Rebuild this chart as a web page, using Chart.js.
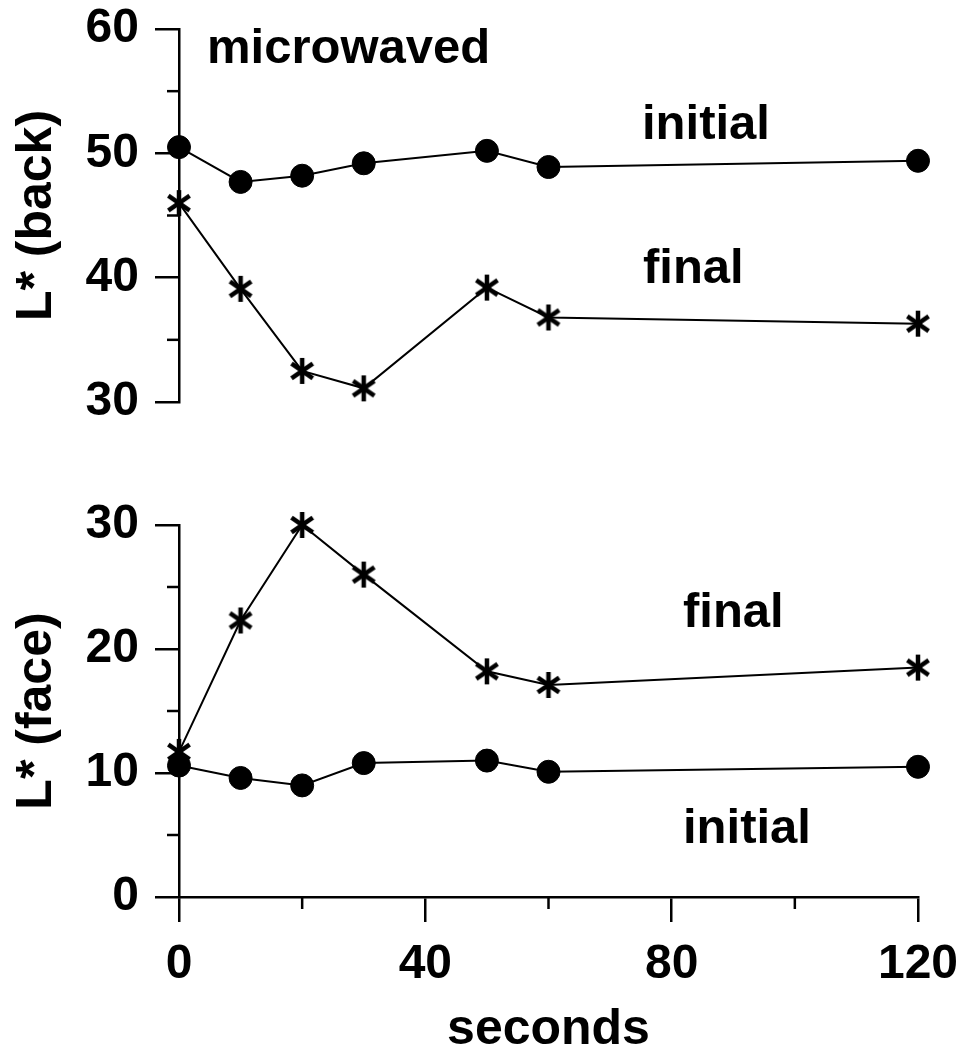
<!DOCTYPE html>
<html>
<head>
<meta charset="utf-8">
<title>L* microwaved</title>
<script src="https://cdn.jsdelivr.net/npm/chart.js@4.4.1/dist/chart.umd.min.js"></script>
<style>
  html, body { margin: 0; padding: 0; background: #fff; }
  #wrap { position: relative; width: 966px; height: 1055px; }
  .panel { position: absolute; left: 0; width: 966px; }
  #topPanel { top: 0; height: 470px; }
  #bottomPanel { top: 470px; height: 585px; }
</style>
</head>
<body>
<div id="wrap">
  <div class="panel" id="topPanel"><canvas id="chartBack"></canvas></div>
  <div class="panel" id="bottomPanel"><canvas id="chartFace"></canvas></div>
</div>
<script>
// data
var seconds = [0, 10, 20, 30, 50, 60, 120];
var backInitial = [50.5, 47.7, 48.2, 49.2, 50.2, 48.9, 49.4];
var backFinal = [46.0, 39.1, 32.5, 31.1, 39.2, 36.8, 36.3];
var faceInitial = [10.6, 9.6, 9.0, 10.8, 11.0, 10.1, 10.5];
var faceFinal = [11.7, 22.3, 30.0, 26.0, 18.2, 17.1, 18.5];

// ticks
var secondsTicks = [0, 40, 80, 120];
var secondsMinor = [20, 60, 100];
var backMinor = [35, 45, 55];
var faceMinor = [5, 15, 25];

var FONT = '"Liberation Sans", Arial, Helvetica, sans-serif';
Chart.defaults.font.family = FONT;
Chart.defaults.color = '#000';

// asterisk marker
function makeStar() {
    var c = document.createElement('canvas');
    c.width = 30;
    c.height = 30;
    var g = c.getContext('2d');
    g.strokeStyle = '#000';
    g.lineWidth = 4.5;
    var r = 13;
    [90, 35, -35].forEach(function (deg) {
        var a = deg * Math.PI / 180;
        g.beginPath();
        g.moveTo(15 - r * Math.cos(a), 15 - r * Math.sin(a));
        g.lineTo(15 + r * Math.cos(a), 15 + r * Math.sin(a));
        g.stroke();
    });
    return c;
}
var star = makeStar();

function toPoints(xs, ys) {
    return xs.map(function (x, i) { return { x: x, y: ys[i] }; });
}

function circleSet(values) {
    return {
        data: toPoints(seconds, values),
        showLine: true,
        borderColor: '#000',
        borderWidth: 2,
        backgroundColor: '#000',
        pointStyle: 'circle',
        pointRadius: 11.5,
        pointBorderWidth: 1,
        pointBackgroundColor: '#000',
        clip: false
    };
}

function starSet(values) {
    return {
        data: toPoints(seconds, values),
        showLine: true,
        borderColor: '#000',
        borderWidth: 2,
        pointStyle: star,
        pointRadius: 13,
        clip: false
    };
}

// short minor ticks + text labels
var extras = {
    id: 'extras',
    afterDraw: function (chart, args, opts) {
        var ctx = chart.ctx;
        var xs = chart.scales.x, ys = chart.scales.y;
        ctx.save();
        ctx.strokeStyle = '#000';
        ctx.lineWidth = 2.5;
        (opts.yMinor || []).forEach(function (v) {
            var py = ys.getPixelForValue(v);
            ctx.beginPath();
            ctx.moveTo(ys.right - 12, py);
            ctx.lineTo(ys.right, py);
            ctx.stroke();
        });
        if (xs.options.display) {
            (opts.xMinor || []).forEach(function (v) {
                var px = xs.getPixelForValue(v);
                ctx.beginPath();
                ctx.moveTo(px, xs.top);
                ctx.lineTo(px, xs.top + 12);
                ctx.stroke();
            });
        }
        ctx.fillStyle = '#000';
        ctx.font = 'bold 49px ' + FONT;
        ctx.textBaseline = 'alphabetic';
        ctx.textAlign = 'left';
        (opts.labels || []).forEach(function (l) {
            ctx.fillText(l.text, l.left, l.base);
        });
        ctx.restore();
    }
};

function yAxis(min, max, title) {
    return {
        type: 'linear',
        min: min,
        max: max,
        afterFit: function (s) {
            s.width = 179;
            // the layout padding already leaves room for the end labels
            s.paddingTop = 0;
            s.paddingBottom = 0;
        },
        border: { display: true, color: '#000', width: 2.5 },
        grid: {
            display: true,
            drawOnChartArea: false,
            drawTicks: true,
            tickLength: 24,
            tickWidth: 2.5,
            lineWidth: 2.5,
            tickColor: '#000',
            color: '#000'
        },
        ticks: { stepSize: 10, padding: 16, color: '#000', font: { size: 48, weight: 'bold' } },
        title: {
            display: true,
            text: title,
            color: '#000',
            font: { size: 50, weight: 'bold', lineHeight: 1 },
            padding: { top: 12, bottom: 0 }
        }
    };
}

function xAxis(show) {
    return {
        type: 'linear',
        min: 0,
        max: 120,
        display: show,
        afterFit: function (s) {
            s.height = show ? 158 : 0;
            s.paddingLeft = 0;
            s.paddingRight = 0;
        },
        border: { display: true, color: '#000', width: 2.5 },
        grid: {
            display: true,
            drawOnChartArea: false,
            drawTicks: true,
            tickLength: 25,
            tickWidth: 2.5,
            lineWidth: 2.5,
            tickColor: '#000',
            color: '#000'
        },
        afterBuildTicks: function (s) {
            s.ticks = secondsTicks.map(function (v) { return { value: v }; });
        },
        ticks: { padding: 14, maxRotation: 0, autoSkip: false, color: '#000', font: { size: 48, weight: 'bold' } },
        title: {
            display: true,
            text: 'seconds',
            color: '#000',
            font: { size: 50, weight: 'bold', lineHeight: 1 },
            padding: { top: 0, bottom: 0 }
        }
    };
}

function baseOptions(padding) {
    return {
        responsive: true,
        maintainAspectRatio: false,
        animation: false,
        events: [],
        layout: { autoPadding: false, padding: padding },
        plugins: { legend: { display: false }, tooltip: { enabled: false } }
    };
}

// top panel - back
var backOpts = baseOptions({ top: 29, bottom: 68, left: 0, right: 48 });
backOpts.scales = { x: xAxis(false), y: yAxis(30, 60, 'L* (back)') };
backOpts.plugins.extras = {
    yMinor: backMinor,
    labels: [
        { text: 'microwaved', left: 207, base: 63 },
        { text: 'initial', left: 642, base: 139 },
        { text: 'final', left: 643, base: 283 }
    ]
};
new Chart(document.getElementById('chartBack'), {
    type: 'scatter',
    data: { datasets: [circleSet(backInitial), starSet(backFinal)] },
    options: backOpts,
    plugins: [extras]
});

// bottom panel - face
var faceOpts = baseOptions({ top: 55, bottom: 0, left: 0, right: 48 });
faceOpts.scales = { x: xAxis(true), y: yAxis(0, 30, 'L* (face)') };
faceOpts.plugins.extras = {
    yMinor: faceMinor,
    xMinor: secondsMinor,
    labels: [
        { text: 'final', left: 683, base: 157 },
        { text: 'initial', left: 683, base: 373 }
    ]
};
new Chart(document.getElementById('chartFace'), {
    type: 'scatter',
    data: { datasets: [circleSet(faceInitial), starSet(faceFinal)] },
    options: faceOpts,
    plugins: [extras]
});
</script>
</body>
</html>
